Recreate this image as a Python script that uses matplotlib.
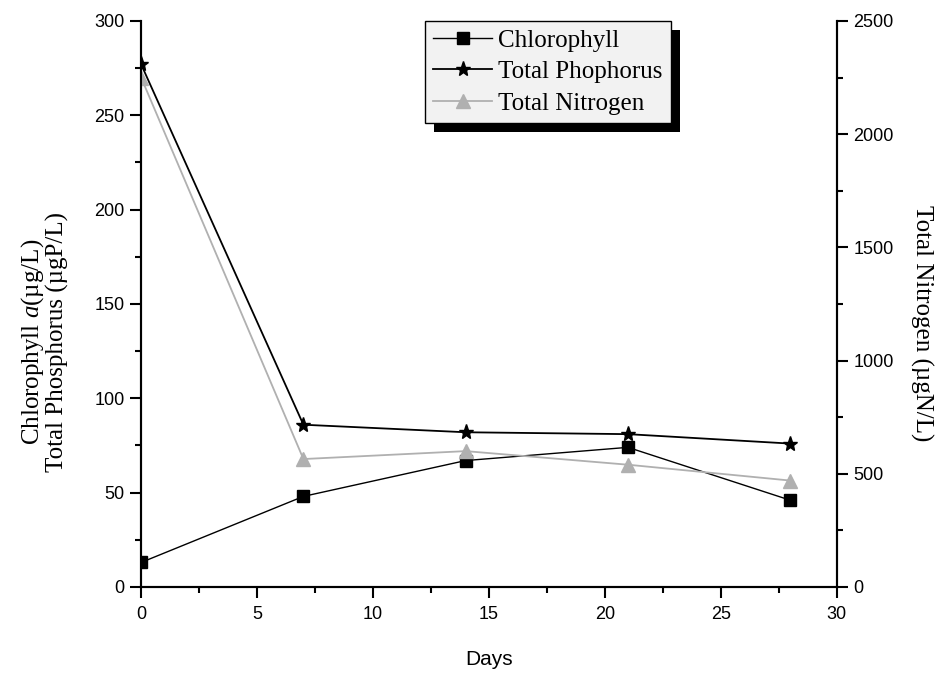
import numpy as np
import matplotlib
matplotlib.use('Agg')
import matplotlib.pyplot as plt
from matplotlib.patches import Rectangle
from matplotlib.transforms import IdentityTransform

plt.rcParams['mathtext.fontset'] = 'custom'
plt.rcParams['mathtext.rm'] = 'Liberation Serif'
plt.rcParams['mathtext.it'] = 'Liberation Serif:italic'

# data
days = [0, 7, 14, 21, 28]
chlorophyll = [13, 48, 67, 74, 46]
phosphorus = [277, 86, 82, 81, 76]
nitrogen = [2250, 565, 600, 540, 470]

serif = 'Liberation Serif'
sans = 'Liberation Sans'

fig = plt.figure(figsize=(9.41, 6.77), dpi=100)
ax = fig.add_axes([0.150, 0.133, 0.739, 0.836])
ax2 = ax.twinx()

h1, = ax.plot(days, chlorophyll, color='black', lw=1.0, marker='s', ms=9,
              label='Chlorophyll')
h2, = ax.plot(days, phosphorus, color='black', lw=1.3, marker='*', ms=11,
              label='Total Phophorus')
h3, = ax2.plot(days, nitrogen, color='#b0b0b0', lw=1.3, marker='^', ms=10,
               label='Total Nitrogen')

ax.set_xlim(0, 30)
ax.set_ylim(0, 300)
ax2.set_ylim(0, 2500)
ax.set_xticks(np.arange(0, 31, 5))
ax.set_xticks(np.arange(2.5, 30, 5), minor=True)
ax.set_yticks(np.arange(0, 301, 50))
ax.set_yticks(np.arange(25, 300, 50), minor=True)
ax2.set_yticks(np.arange(0, 2501, 500))
ax2.set_yticks(np.arange(250, 2500, 500), minor=True)

for a in (ax, ax2):
    a.spines['top'].set_visible(False)
    for s in a.spines.values():
        s.set_linewidth(1.5)
    a.tick_params(which='major', direction='out', length=8, width=1.5,
                  labelsize=13, pad=4)
    a.tick_params(which='minor', direction='out', length=4.5, width=1.5)
    for lab in a.get_xticklabels() + a.get_yticklabels():
        lab.set_family(sans)
ax.tick_params(axis='x', which='major', pad=6)

ax.set_xlabel('Days', fontsize=15, family=sans)
ax.xaxis.set_label_coords(0.5, -0.111)
ax.set_ylabel('Chlorophyll $a$(µg/L)\nTotal Phosphorus (µgP/L)',
              fontsize=18, family=serif, linespacing=1.0)
ax.yaxis.label.set_va('center')
ax.yaxis.set_label_coords(-0.14, 0.433)
ax2.set_ylabel('Total Nitrogen (µgN/L)', fontsize=18, family=serif,
               rotation=-90)
ax2.yaxis.label.set_va('center')
ax2.yaxis.set_label_coords(1.122, 0.466)

leg = ax2.legend(handles=[h1, h2, h3], loc='upper center',
                 bbox_to_anchor=(0.585, 1.0), fancybox=False, framealpha=1,
                 facecolor='#f2f2f2', edgecolor='black', borderpad=0.33,
                 labelspacing=0.36, handlelength=2.35, handletextpad=0.25,
                 borderaxespad=0.0, prop={'family': serif, 'size': 18})
leg.get_frame().set_linewidth(1.0)

# black drop shadow behind the legend box
fig.canvas.draw()
bb = leg.get_frame().get_window_extent()
ax2.add_patch(Rectangle((bb.x0 + 9, bb.y0 - 9), bb.width, bb.height,
                        transform=IdentityTransform(), facecolor='black',
                        edgecolor='none', zorder=4.9, clip_on=False))

fig.savefig('out.png', dpi=100)
